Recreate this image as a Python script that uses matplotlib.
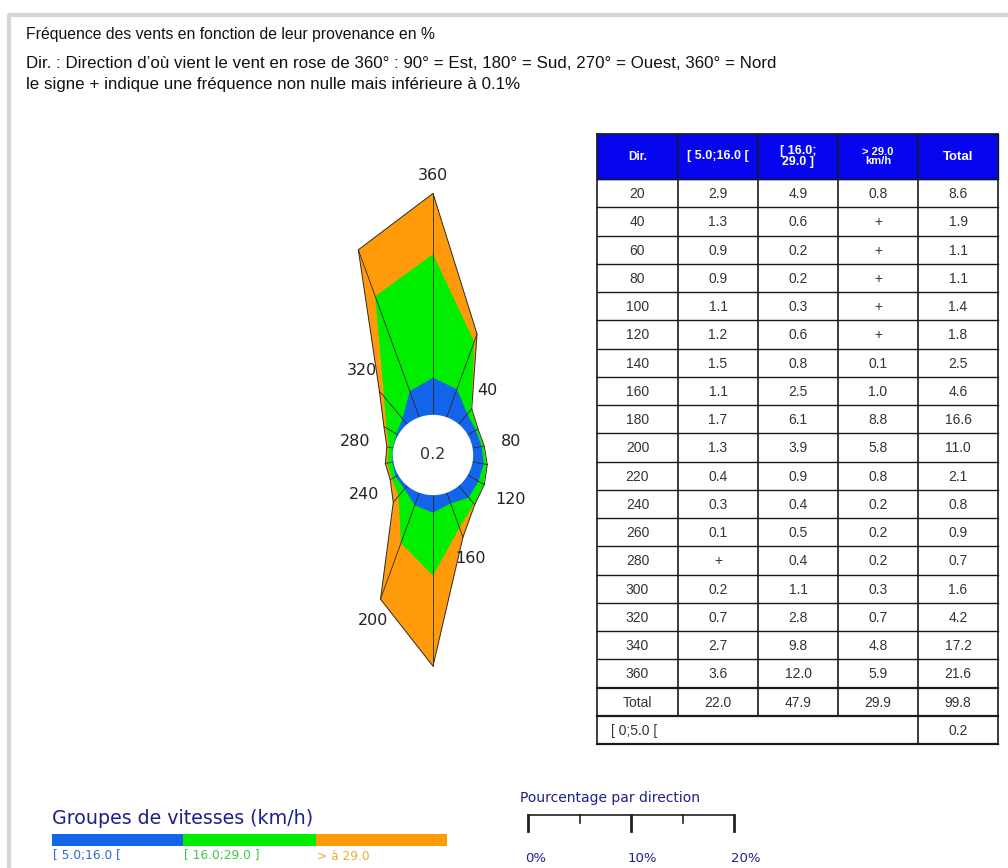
import numpy as np
import matplotlib
matplotlib.use("Agg")
import matplotlib.pyplot as plt
from matplotlib.patches import Polygon, Circle, Rectangle

# wind rose data (% per direction), "+" = non zero but < 0.1
directions = [20, 40, 60, 80, 100, 120, 140, 160, 180, 200, 220, 240, 260, 280, 300, 320, 340, 360]
low = ["2.9", "1.3", "0.9", "0.9", "1.1", "1.2", "1.5", "1.1", "1.7", "1.3", "0.4", "0.3", "0.1", "+", "0.2", "0.7", "2.7", "3.6"]
mid = ["4.9", "0.6", "0.2", "0.2", "0.3", "0.6", "0.8", "2.5", "6.1", "3.9", "0.9", "0.4", "0.5", "0.4", "1.1", "2.8", "9.8", "12.0"]
high = ["0.8", "+", "+", "+", "+", "+", "0.1", "1.0", "8.8", "5.8", "0.8", "0.2", "0.2", "0.2", "0.3", "0.7", "4.8", "5.9"]
totals = ["8.6", "1.9", "1.1", "1.1", "1.4", "1.8", "2.5", "4.6", "16.6", "11.0", "2.1", "0.8", "0.9", "0.7", "1.6", "4.2", "17.2", "21.6"]
col_totals = ["22.0", "47.9", "29.9", "99.8"]
calm = "0.2"

headers = ["Dir.", "[ 5.0;16.0 [", "[ 16.0;\n29.0 ]", "> 29.0\nkm/h", "Total"]
header_sizes = [8.5, 9, 9, 8, 9.5]
group_labels = ["[ 5.0;16.0 [", "[ 16.0;29.0 ]", "> à 29.0"]
group_colors = ["#1464eb", "#00ee00", "#ff9a0a"]
group_text_colors = ["#2a6ad8", "#3ccc3c", "#e8b030"]


def to_num(s):
    return 0.05 if s == "+" else float(s)


W, H = 1008, 868
fig = plt.figure(figsize=(W / 100, H / 100), dpi=100)
fig.patch.set_facecolor("white")

# background axes in pixel coordinates
bg = fig.add_axes([0, 0, 1, 1])
bg.set_xlim(0, W)
bg.set_ylim(H, 0)
bg.axis("off")

# light grey frame
bg.plot([9, 9, W], [H, 15, 15], color="#d6d6d6", lw=3, solid_capstyle="butt")

bg.text(26, 34, "Fréquence des vents en fonction de leur provenance en %",
        family="Liberation Sans", fontsize=11.3, va="center", color="#111111")
bg.text(26, 63, "Dir. : Direction d’où vient le vent en rose de 360° : 90° = Est, 180° = Sud, 270° = Ouest, 360° = Nord",
        family="Liberation Sans", fontsize=12.2, va="center", color="#111111")
bg.text(26, 85, "le signe + indique une fréquence non nulle mais inférieure à 0.1%",
        family="Liberation Sans", fontsize=12.2, va="center", color="#111111")

# ---- table ----
xs = [597, 678, 758, 838, 918, 998]
top, head_bot, row_h = 134, 179, 28.25
bg.add_patch(Rectangle((xs[0], top), xs[-1] - xs[0], head_bot - top, color="#0505ee", zorder=1))
for j, h in enumerate(headers):
    bg.text((xs[j] + xs[j + 1]) / 2, (top + head_bot) / 2, h, color="white", fontweight="bold",
            family="Liberation Sans", fontsize=header_sizes[j], ha="center", va="center",
            linespacing=0.95)

rows = [[str(d), low[i], mid[i], high[i], totals[i]] for i, d in enumerate(directions)]
rows.append(["Total"] + col_totals)
for i, r in enumerate(rows):
    yc = head_bot + (i + 0.5) * row_h
    for j, v in enumerate(r):
        bg.text((xs[j] + xs[j + 1]) / 2, yc + 1, v, family="Liberation Sans", fontsize=10,
                ha="center", va="center", color="#333333")
n = len(rows)
y_last = head_bot + n * row_h
y_end = y_last + row_h
bg.text(xs[0] + 14, y_last + row_h / 2 + 1, "[ 0;5.0 [", family="Liberation Sans", fontsize=10,
        va="center", color="#333333")
bg.text((xs[4] + xs[5]) / 2, y_last + row_h / 2 + 1, calm, family="Liberation Sans", fontsize=10,
        ha="center", va="center", color="#333333")

lc = "#1a1a1a"
bg.plot([xs[0], xs[-1]], [top, top], color=lc, lw=1.2)
for i in range(n + 1):
    y = head_bot + i * row_h
    bg.plot([xs[0], xs[-1]], [y, y], color=lc, lw=1.6 if i in (n - 1, n) else 1.0)
bg.plot([xs[0], xs[-1]], [y_end, y_end], color=lc, lw=1.6)
for j, x in enumerate(xs):
    y1 = y_end if j in (0, 4, 5) else y_last
    bg.plot([x, x], [top, y1], color=lc, lw=1.2)

# ---- legend: speed groups ----
bg.text(52, 818, "Groupes de vitesses (km/h)", family="DejaVu Sans", fontsize=13.7,
        color="#1e1e8c", va="center")
bx = [52, 183, 316, 447]
for k in range(3):
    bg.add_patch(Rectangle((bx[k], 834), bx[k + 1] - bx[k], 12, color=group_colors[k], lw=0))
    bg.text(bx[k] + 1, 856, group_labels[k], family="DejaVu Sans", fontsize=8.8,
            color=group_text_colors[k], va="center")

# ---- legend: percentage scale ----
px_per_pct = 10.3
sx0 = 528
bg.text(520, 798, "Pourcentage par direction", family="DejaVu Sans", fontsize=10,
        color="#1e1e8c", va="center")
bg.plot([sx0, sx0 + 20 * px_per_pct], [815, 815], color="#222222", lw=1.2)
for p in [0, 5, 10, 15, 20]:
    x = sx0 + p * px_per_pct
    bg.plot([x, x], [815, 831 if p % 10 == 0 else 823], color="#222222",
            lw=2 if p % 10 == 0 else 1.2)
    if p % 10 == 0:
        bg.text(x - 3, 859, f"{p}%", family="DejaVu Sans", fontsize=9.5, color="#1e1e8c",
                ha="left", va="center")

# ---- wind rose ----
cx, cy = 433, 455
box = (283, 150, 583, 700)  # left, top, right, bottom in px
rose = fig.add_axes([box[0] / W, (H - box[3]) / H, (box[2] - box[0]) / W, (box[3] - box[1]) / H])
rose.set_xlim((box[0] - cx) / px_per_pct, (box[2] - cx) / px_per_pct)
rose.set_ylim((cy - box[3]) / px_per_pct, (cy - box[1]) / px_per_pct)
rose.axis("off")
rose.patch.set_alpha(0)

hole = 3.9
theta = np.radians(directions)
b1 = np.array([to_num(v) for v in low])
b2 = np.array([to_num(v) for v in mid])
b3 = np.array([to_num(v) for v in high])
layers = [b1, b1 + b2, b1 + b2 + b3]

for k in [2, 1, 0]:
    r = hole + layers[k]
    pts = np.column_stack([r * np.sin(theta), r * np.cos(theta)])
    rose.add_patch(Polygon(pts, closed=True, facecolor=group_colors[k],
                           edgecolor="#2a2a2a" if k == 2 else "none", lw=0.7, zorder=1 + (2 - k)))

r_out = hole + layers[2]
for t, r in zip(theta, r_out):
    rose.plot([hole * np.sin(t), r * np.sin(t)], [hole * np.cos(t), r * np.cos(t)],
              color="#2a2a2a", lw=0.6, zorder=4)

rose.add_patch(Circle((0, 0), hole, facecolor="white", edgecolor="none", zorder=5))
rose.text(0, 0, calm, family="DejaVu Sans", fontsize=11.5, ha="center", va="center",
          color="#333333", zorder=6)

for d, t, r in zip(directions, theta, r_out):
    if d % 40 == 0:
        half_w = 5.0 * len(str(d)) / px_per_pct
        rl = r + 1.7 + half_w * abs(np.sin(t))
        rose.text(rl * np.sin(t), rl * np.cos(t), str(d), family="DejaVu Sans", fontsize=11.5,
                  ha="center", va="center", color="#222222", zorder=6)

fig.savefig("out.png", dpi=100, facecolor="white")
